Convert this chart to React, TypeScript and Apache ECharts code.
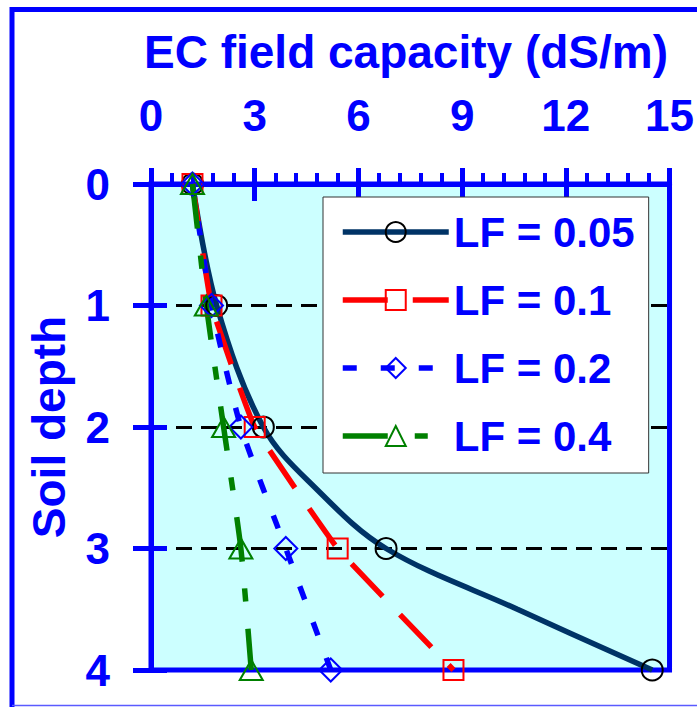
import React, { useEffect, useRef } from "react";
import * as echarts from "echarts";

// ---- data ----
const depths = [0, 1, 2, 3, 4];
const seriesNames = ["LF = 0.05", "LF = 0.1", "LF = 0.2", "LF = 0.4"];
const lf005 = [1.2, 1.9, 3.25, 6.8, 14.5];
const lf01 = [1.2, 1.75, 3.0, 5.4, 8.75];
const lf02 = [1.2, 1.75, 2.6, 3.9, 5.2];
const lf04 = [1.2, 1.6, 2.1, 2.6, 2.9];
// extra curve points of the LF = 0.05 line (no marker)
const lf005CurveDepths = [2.5, 3.5];
const lf005CurveValues = [4.75, 10.6];

const xTitle = "EC field capacity (dS/m)";
const yTitle = "Soil depth";

const FONT = '"Liberation Sans", Arial, Helvetica, sans-serif';
const BLUE = "#0000FF";
const lineColors = ["#003366", "#FF0000", "#0000FF", "#008000"];
const markerColors = ["#000000", "#FF0000", "#0000FF", "#008000"];
const dashes: any[] = ["solid", [45, 25], [14, 24], [45, 27, 13, 27]];
const symbols = ["circle", "rect", "diamond", "triangle"];
const symbolSizes: any[] = [21, 20, [23, 23], [23, 20]];
const smoothness = [0.35, 0.1, 0.2, 0.2];

function makeData(values: number[], extraD: number[] = [], extraV: number[] = []) {
  const pts: { v: number[]; m: boolean }[] = depths.map((d, i) => ({ v: [values[i], d], m: true }));
  extraD.forEach((d, i) => pts.push({ v: [extraV[i], d], m: false }));
  pts.sort((a, b) => a.v[1] - b.v[1]);
  return pts.map((p) => (p.m ? { value: p.v } : { value: p.v, symbol: "none" }));
}

export default function App() {
  const ref = useRef<HTMLDivElement>(null);

  useEffect(() => {
    if (!ref.current) return;
    const chart = echarts.init(ref.current, undefined, { renderer: "svg" });

    const datasets = [
      makeData(lf005, lf005CurveDepths, lf005CurveValues),
      makeData(lf01),
      makeData(lf02),
      makeData(lf04),
    ];

    const series = seriesNames.map((name, i) => ({
      name,
      type: "line",
      data: datasets[i],
      xAxisIndex: 0,
      yAxisIndex: 0,
      smooth: smoothness[i],
      symbol: symbols[i],
      symbolSize: symbolSizes[i],
      showAllSymbol: true,
      clip: false,
      lineStyle: { color: lineColors[i], width: 5.5, type: dashes[i], cap: "butt" },
      itemStyle: { color: "rgba(0,0,0,0)", borderColor: markerColors[i], borderWidth: 2 },
      emphasis: { disabled: true },
    }));

    const option: any = {
      animation: false,
      backgroundColor: "#ffffff",
      grid: {
        left: 151,
        top: 184,
        width: 519,
        height: 486,
        show: true,
        backgroundColor: "#CCFFFF",
        borderColor: BLUE,
        borderWidth: 5,
      },
      legend: {
        orient: "vertical",
        left: 323,
        top: 197,
        padding: [14, 14, 16, 17],
        itemGap: 26,
        itemWidth: 106,
        itemHeight: 25,
        backgroundColor: "#ffffff",
        borderColor: "#333333",
        borderWidth: 1,
        selectedMode: false,
        textStyle: { color: BLUE, fontSize: 42, fontWeight: "bold", fontFamily: FONT },
        data: seriesNames.map((n, i) => ({
          name: n,
          lineStyle: { color: lineColors[i], width: 5.5, type: dashes[i], cap: "butt" },
          itemStyle: { color: "rgba(0,0,0,0)", borderColor: markerColors[i], borderWidth: 2 },
        })),
      },
      xAxis: [
        {
          type: "value",
          position: "top",
          min: 0,
          max: 15,
          interval: 3,
          axisLine: { show: true, onZero: false, lineStyle: { color: BLUE, width: 5 } },
          axisTick: { show: true, inside: false, length: 16, lineStyle: { color: BLUE, width: 5 } },
          minorTick: { show: true, splitNumber: 5, length: 11, lineStyle: { color: BLUE, width: 4 } },
          axisLabel: { color: BLUE, fontSize: 44, fontWeight: "bold", fontFamily: FONT, margin: 47 },
          splitLine: { show: false },
          minorSplitLine: { show: false },
        },
        {
          type: "value",
          position: "top",
          offset: 0,
          min: 0,
          max: 15,
          interval: 3,
          axisLine: { show: false, onZero: false },
          axisTick: { show: true, inside: true, length: 17, lineStyle: { color: BLUE, width: 5 } },
          axisLabel: { show: false },
          splitLine: { show: false },
        },
      ],
      yAxis: [
        {
          type: "value",
          position: "left",
          inverse: true,
          min: 0,
          max: 4,
          interval: 1,
          axisLine: { show: true, onZero: false, lineStyle: { color: BLUE, width: 5 } },
          axisTick: { show: true, inside: false, length: 18, lineStyle: { color: BLUE, width: 5 } },
          axisLabel: { color: BLUE, fontSize: 44, fontWeight: "bold", fontFamily: FONT, margin: 41 },
          splitLine: {
            show: true,
            showMinLine: false,
            showMaxLine: false,
            lineStyle: { color: "#000000", width: 3, type: [16, 9] },
          },
        },
        {
          type: "value",
          position: "left",
          offset: 0,
          inverse: true,
          min: 0,
          max: 4,
          interval: 1,
          axisLine: { show: false, onZero: false },
          axisTick: { show: true, inside: true, length: 16, lineStyle: { color: BLUE, width: 5 } },
          axisLabel: { show: false },
          splitLine: { show: false },
        },
      ],
      series,
      graphic: [
        {
          type: "text",
          x: 406,
          y: 52,
          style: {
            text: xTitle,
            fill: BLUE,
            font: `bold 46px ${FONT}`,
            textAlign: "center",
            textVerticalAlign: "middle",
          },
        },
        {
          type: "text",
          x: 49,
          y: 427,
          rotation: Math.PI / 2,
          style: {
            text: yTitle,
            fill: BLUE,
            font: `bold 46px ${FONT}`,
            textAlign: "center",
            textVerticalAlign: "middle",
          },
        },
        { type: "line", shape: { x1: 10, y1: 9.5, x2: 700, y2: 9.5 }, style: { stroke: BLUE, lineWidth: 5 } },
        { type: "line", shape: { x1: 12, y1: 7, x2: 12, y2: 707 }, style: { stroke: BLUE, lineWidth: 5 } },
        { type: "line", shape: { x1: 12, y1: 705.5, x2: 700, y2: 705.5 }, style: { stroke: "#5a5aff", lineWidth: 1.5 } },
      ],
    };

    chart.setOption(option);
    return () => chart.dispose();
  }, []);

  return (
    <div
      ref={ref}
      style={{ position: "absolute", left: 0, top: 0, width: 697, height: 707 }}
    />
  );
}
